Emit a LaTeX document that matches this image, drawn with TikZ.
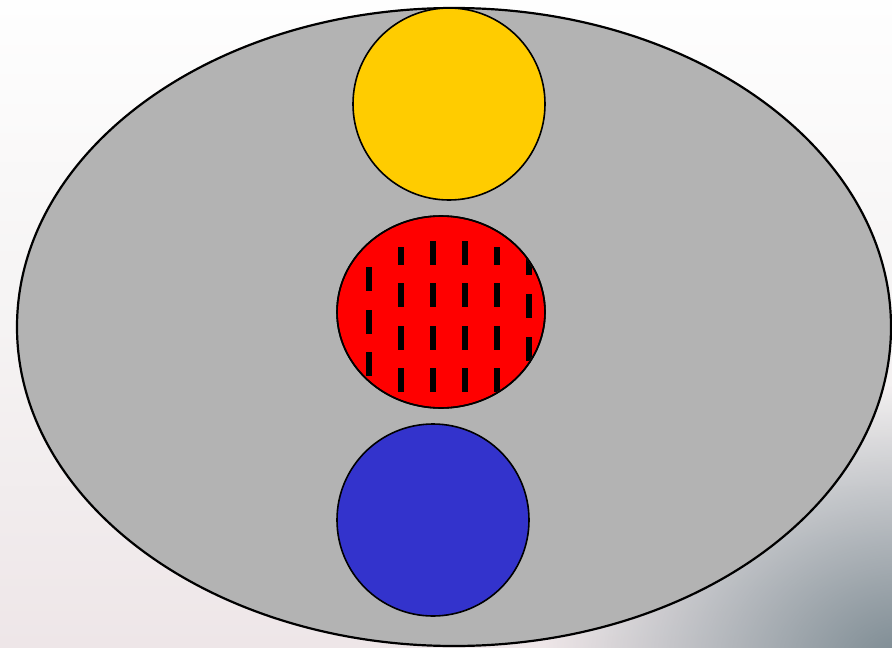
\documentclass[tikz,border=0pt]{standalone}
\usetikzlibrary{fadings}
\definecolor{bodygray}{HTML}{B3B3B3}
\definecolor{sunyellow}{HTML}{FFCC00}
\definecolor{hotred}{HTML}{FF0000}
\definecolor{deepblue}{HTML}{3333CC}
\definecolor{bgtop}{HTML}{FEFEFE}
\definecolor{bgmid}{HTML}{F5F3F3}
\definecolor{bgbot}{HTML}{EEE6E8}
\definecolor{bgblue}{HTML}{7A8991}
\tikzfading[name=softglow, inner color=transparent!0, outer color=transparent!100]
\tikzset{
  disc/.style={draw=black, line width=1.6pt},
  dashbar/.style={fill=black},
}
\begin{document}
\begin{tikzpicture}[x=1pt,y=-1pt]
\useasboundingbox (0,0) rectangle (892,648);
% background
\shade[top color=bgtop, bottom color=bgbot, middle color=bgmid] (0,0) rectangle (892,648);
\begin{scope}
\clip (0,0) rectangle (892,648);
\fill[bgblue, path fading=softglow] (905,665) ellipse (360 and 280);
\end{scope}
% body
\draw[fill=bodygray, line width=2.2pt] (454,327) ellipse (437 and 319);
% yellow
\node[disc, fill=sunyellow, circle, minimum size=192pt, inner sep=0pt] (yel) at (449,104) {};
% red
\draw[disc, fill=hotred] (441,312) ellipse (104 and 96);
\node[inner sep=0pt, minimum width=208pt, minimum height=192pt] (red) at (441,312) {};
\begin{scope}
\clip (441,312) ellipse (103 and 95);
% column 369
\foreach \y in {267,310,352} \fill[dashbar] (366,\y) rectangle (372,\y+24);
% columns 401 and 497
\foreach \x in {401,497}{
  \fill[dashbar] (\x-3,247) rectangle (\x+3,265);
  \foreach \y in {283,326,368} \fill[dashbar] (\x-3,\y) rectangle (\x+3,\y+24);
}
% columns 433 and 465
\foreach \x in {433,465}{
  \foreach \y in {241,283,326,368} \fill[dashbar] (\x-3,\y) rectangle (\x+3,\y+24);
}
% column 529
\foreach \y in {251,294,337} \fill[dashbar] (526,\y) rectangle (532,\y+24);
\end{scope}
\draw[disc] (441,312) ellipse (104 and 96);
% blue
\node[disc, fill=deepblue, circle, minimum size=192pt, inner sep=0pt] (blu) at (433,520) {};
\end{tikzpicture}
\end{document}
